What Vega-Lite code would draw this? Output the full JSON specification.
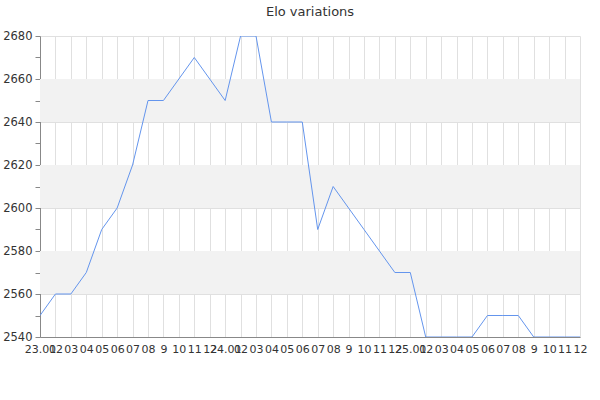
{
  "$schema": "https://vega.github.io/schema/vega-lite/v6.json",
  "autosize": "none",
  "width": 540,
  "height": 301,
  "padding": {"left": 40, "top": 36, "right": 20, "bottom": 63},
  "background": "white",
  "config": {
    "font": "DejaVu Sans",
    "view": {"stroke": null}
  },
  "title": {"text": "Elo variations", "fontSize": 13, "fontWeight": "normal", "color": "#333333", "offset": 11, "font": "DejaVu Sans"},
  "datasets": {
    "elo": [
      {"m": 0, "elo": 2550}, {"m": 1, "elo": 2560}, {"m": 2, "elo": 2560}, {"m": 3, "elo": 2570},
      {"m": 4, "elo": 2590}, {"m": 5, "elo": 2600}, {"m": 6, "elo": 2620}, {"m": 7, "elo": 2650},
      {"m": 8, "elo": 2650}, {"m": 9, "elo": 2660}, {"m": 10, "elo": 2670}, {"m": 11, "elo": 2660},
      {"m": 12, "elo": 2650}, {"m": 13, "elo": 2680}, {"m": 14, "elo": 2680}, {"m": 15, "elo": 2640},
      {"m": 16, "elo": 2640}, {"m": 17, "elo": 2640}, {"m": 18, "elo": 2590}, {"m": 19, "elo": 2610},
      {"m": 20, "elo": 2600}, {"m": 21, "elo": 2590}, {"m": 22, "elo": 2580}, {"m": 23, "elo": 2570},
      {"m": 24, "elo": 2570}, {"m": 25, "elo": 2540}, {"m": 26, "elo": 2540}, {"m": 27, "elo": 2540},
      {"m": 28, "elo": 2540}, {"m": 29, "elo": 2550}, {"m": 30, "elo": 2550}, {"m": 31, "elo": 2550},
      {"m": 32, "elo": 2540}, {"m": 33, "elo": 2540}, {"m": 34, "elo": 2540}, {"m": 35, "elo": 2540}
    ],
    "bands": [
      {"lo": 2560, "hi": 2580}, {"lo": 2600, "hi": 2620}, {"lo": 2640, "hi": 2660}
    ]
  },
  "resolve": {"axis": {"y": "independent", "x": "independent"}},
  "layer": [
    {
      "data": {"name": "bands"},
      "mark": {"type": "rect", "color": "#f2f2f2"},
      "encoding": {
        "y": {"field": "lo", "type": "quantitative", "scale": {"domain": [2540, 2680], "nice": false, "zero": false},
          "axis": {"values": [2550, 2570, 2590, 2610, 2630, 2650, 2670], "labels": false, "grid": false, "domain": false, "ticks": true, "tickSize": 5, "tickColor": "#888888", "title": null, "orient": "left"}},
        "y2": {"field": "hi"}
      }
    },
    {
      "data": {"name": "elo"},
      "mark": {"type": "line", "color": "#6495ED", "strokeWidth": 1, "clip": true},
      "encoding": {
        "x": {"field": "m", "type": "quantitative", "scale": {"domain": [0, 35], "nice": false, "zero": false},
          "axis": {"values": [0,1,2,3,4,5,6,7,8,9,10,11,12,13,14,15,16,17,18,19,20,21,22,23,24,25,26,27,28,29,30,31,32,33,34,35],
            "labelExpr": "datum.value % 12 == 0 ? (23 + datum.value / 12) + '.01' : ((datum.value % 12 + 1) < 9 ? '0' + (datum.value % 12 + 1) : '' + (datum.value % 12 + 1))",
            "labelOverlap": false, "labelFlush": false, "labelFontSize": 11, "labelColor": "#333333", "labelPadding": 6,
            "ticks": false, "grid": true, "gridColor": "#e0e0e0", "domainColor": "#888888", "title": null}},
        "y": {"field": "elo", "type": "quantitative", "scale": {"domain": [2540, 2680], "nice": false, "zero": false},
          "axis": {"values": [2540, 2560, 2580, 2600, 2620, 2640, 2660, 2680], "format": "d", "grid": true, "gridColor": "#e0e0e0",
            "labelFontSize": 11.5, "labelColor": "#333333", "tickSize": 5, "tickColor": "#888888", "domainColor": "#888888", "labelPadding": 3, "title": null, "orient": "left"}}
      }
    }
  ]
}
